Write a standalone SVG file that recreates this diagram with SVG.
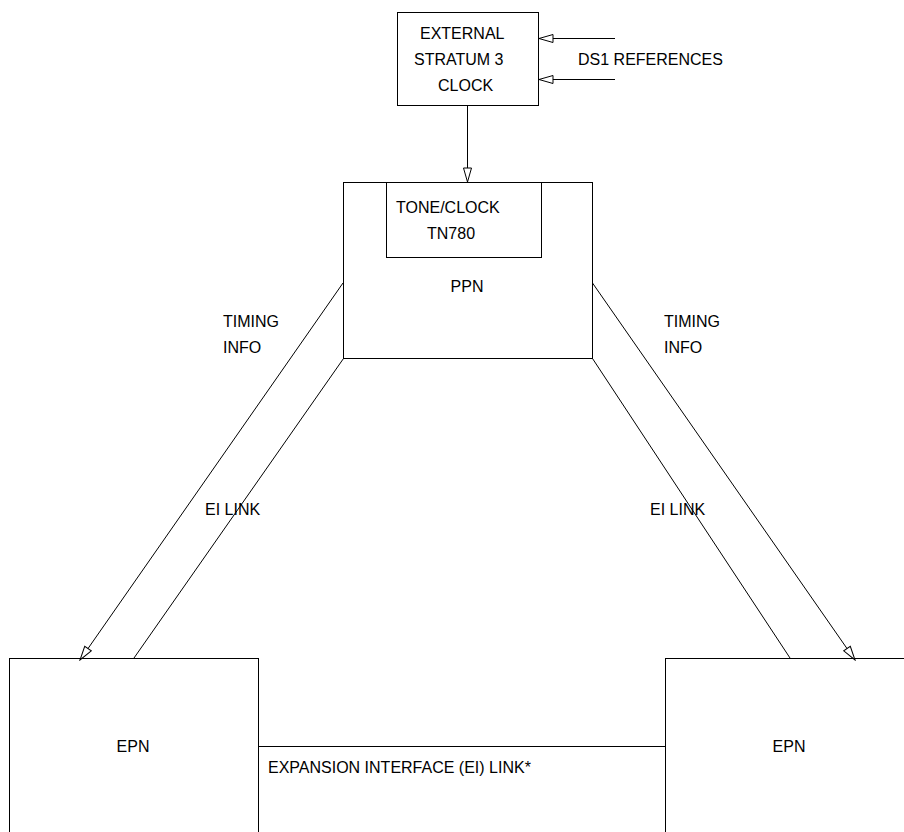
<svg xmlns="http://www.w3.org/2000/svg" width="904" height="832" viewBox="0 0 904 832">
<style>
.box{fill:#fff;stroke:#000;stroke-width:1}
.ln{fill:none;stroke:#000;stroke-width:1}
text{font-family:"Liberation Sans",Arial,sans-serif;font-size:16px;fill:#000}
</style>
<defs>
<marker id="arr" markerUnits="userSpaceOnUse" markerWidth="16" markerHeight="12" refX="15" refY="5" orient="auto">
<path d="M1,1 L15,5 L1,9 z" fill="#fff" stroke="#000" stroke-width="1"/>
</marker>
</defs>
<rect width="904" height="832" fill="#fff"/>
<g id="ext-clock">
<rect class="box" x="397.5" y="12.5" width="141" height="93"/>
<text x="420" y="39">EXTERNAL</text>
<text x="414" y="65">STRATUM 3</text>
<text x="438" y="91">CLOCK</text>
</g>
<g id="ppn">
<rect class="box" x="343.5" y="182.5" width="249" height="176"/>
<text x="467" y="292" text-anchor="middle">PPN</text>
</g>
<g id="tone-clock">
<rect class="box" x="386.5" y="182.5" width="155" height="75"/>
<text x="396" y="213">TONE/CLOCK</text>
<text x="427" y="239">TN780</text>
</g>
<g id="epn-left">
<rect class="box" x="9.5" y="658.5" width="249" height="200"/>
<text x="133" y="752" text-anchor="middle">EPN</text>
</g>
<g id="epn-right">
<rect class="box" x="665.5" y="658.5" width="260" height="200"/>
<text x="789" y="752" text-anchor="middle">EPN</text>
</g>
<g id="connectors">
<line class="ln" x1="615" y1="38.5" x2="539" y2="38.5" marker-end="url(#arr)"/>
<line class="ln" x1="615" y1="79.5" x2="539" y2="79.5" marker-end="url(#arr)"/>
<line class="ln" x1="467.5" y1="106" x2="467.5" y2="182" marker-end="url(#arr)"/>
<line class="ln" x1="343" y1="283" x2="80" y2="660" marker-end="url(#arr)"/>
<line class="ln" x1="343.5" y1="358.5" x2="134" y2="658"/>
<line class="ln" x1="592.5" y1="283" x2="855" y2="660" marker-end="url(#arr)"/>
<line class="ln" x1="592.5" y1="358.5" x2="790" y2="658"/>
<line class="ln" x1="259" y1="746.5" x2="665" y2="746.5"/>
</g>
<g id="labels">
<text x="578" y="65">DS1 REFERENCES</text>
<text x="223" y="327">TIMING</text>
<text x="223" y="353">INFO</text>
<text x="205" y="515">EI LINK</text>
<text x="664" y="327">TIMING</text>
<text x="664" y="353">INFO</text>
<text x="650" y="515">EI LINK</text>
<text x="268" y="773">EXPANSION INTERFACE (EI) LINK*</text>
</g>
</svg>
